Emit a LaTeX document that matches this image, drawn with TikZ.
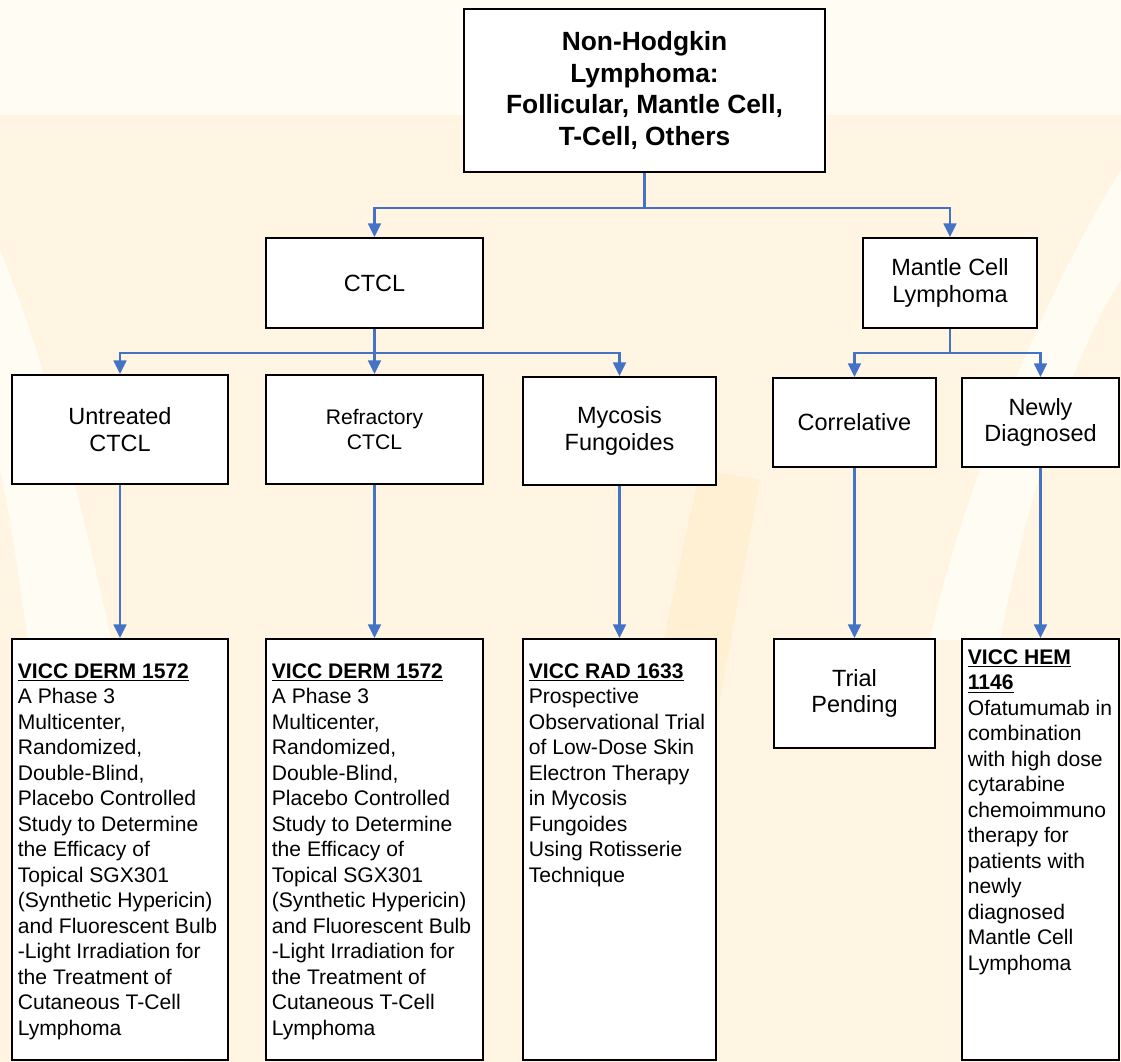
\documentclass[tikz,border=0pt]{standalone}
\usepackage{fontspec}
\setmainfont{Liberation Sans}
\usepackage{tikz}
\usetikzlibrary{arrows.meta}
\definecolor{linkblue}{RGB}{68,114,196}
\definecolor{paper}{RGB}{255,252,244}
\definecolor{wmark}{RGB}{255,245,226}
\definecolor{wmarkdk}{RGB}{255,240,212}
\newcommand{\trialhead}[1]{\underline{\textbf{#1}}}

\begin{document}
\begin{tikzpicture}[x=0.025cm,y=-0.025cm,
		box/.style={draw=black,line width=1.3pt,fill=white,rectangle,inner sep=0pt,align=center},
		wh/.style 2 args={minimum width=#1*0.025cm,minimum height=#2*0.025cm},
		midfont/.style={font=\fontsize{16.7}{19.1}\selectfont},
		arr/.style={draw=linkblue,line width=1.5pt,-{Triangle[length=0.34cm,width=0.32cm]}},
		trialtext/.style={inner sep=0pt,align=left,anchor=north west,font=\fontsize{15}{18.14}\selectfont}]
	\useasboundingbox (0,0) rectangle (1121,1062);
	\fill[paper] (0,0) rectangle (1121,1062);
	\fill[wmark] (0,115) rectangle (1121,1062);
	\fill[paper] (0,250) .. controls (70,420) and (130,700) .. (190,1062) -- (80,1062) .. controls (50,800) and (20,560) .. (0,470) -- cycle;
	\fill[paper] (1121,170) .. controls (1040,300) and (960,500) .. (930,640) -- (1000,640) .. controls (1030,480) and (1080,340) .. (1121,280) -- cycle;
	\fill[wmarkdk] (700,470) .. controls (660,650) and (620,850) .. (590,1062) -- (660,1062) .. controls (690,850) and (730,650) .. (760,480) -- cycle;
	\node[box,wh={361}{163},font=\bfseries\fontsize{18.75}{22.7}\selectfont] (root) at (644.5,90.5) {Non-Hodgkin\\Lymphoma:\\Follicular, Mantle Cell,\\T-Cell, Others};
	\node[box,wh={217}{90},midfont] (ctcl) at (374.5,283) {CTCL};
	\node[box,wh={174}{90},midfont] (mcl) at (950,283) {Mantle Cell\\Lymphoma};
	\node[box,wh={216}{109},midfont] (untr) at (120,429.5) {Untreated\\CTCL};
	\node[box,wh={217}{109},font=\fontsize{15}{17.7}\selectfont] (refr) at (374.5,429.5) {Refractory\\CTCL};
	\node[box,wh={193}{108},midfont] (myco) at (619.5,431) {Mycosis\\Fungoides};
	\node[box,wh={163}{89},midfont] (corr) at (854.5,422.5) {Correlative};
	\node[box,wh={157}{89},midfont] (newd) at (1040.5,422.5) {Newly\\Diagnosed};
	\node[box,wh={216}{421}] (derm1) at (120,849.5) {};
	\node[box,wh={217}{421}] (derm2) at (374.5,849.5) {};
	\node[box,wh={193}{421}] (rad) at (619.5,849.5) {};
	\node[box,wh={161}{109},midfont] (pend) at (854.5,693.5) {Trial\\Pending};
	\node[box,wh={157}{421}] (hem) at (1040.5,849.5) {};
	\foreach \b in {derm1,derm2}
		\node[trialtext] (\b txt) at ([shift={(6.5,23)}]\b.north west) {\rule{0pt}{12pt}\trialhead{VICC DERM 1572}\\A Phase 3\\Multicenter,\\Randomized,\\Double-Blind,\\Placebo Controlled\\Study to Determine\\the Efficacy of\\Topical SGX301\\(Synthetic Hypericin)\\and Fluorescent Bulb\\-Light Irradiation for\\the Treatment of\\Cutaneous T-Cell\\Lymphoma};
	\node[trialtext] (radtxt) at ([shift={(6.5,23)}]rad.north west) {\rule{0pt}{12pt}\trialhead{VICC RAD 1633}\\Prospective\\Observational Trial\\of Low-Dose Skin\\Electron Therapy\\in Mycosis\\Fungoides\\Using Rotisserie\\Technique};
	\node[trialtext] (hemtxt) at ([shift={(6.5,9)}]hem.north west) {\rule{0pt}{12pt}\trialhead{VICC HEM}\\\trialhead{1146}\\Ofatumumab in\\combination\\with high dose\\cytarabine\\chemoimmuno\\therapy for\\patients with\\newly\\diagnosed\\Mantle Cell\\Lymphoma};
	\draw[arr] (root.south) -- ++(0,35) -| (ctcl.north);
	\draw[arr] (root.south) -- ++(0,35) -| (mcl.north);
	\foreach \b in {untr,refr,myco}
		\draw[arr] (ctcl.south) -- ++(0,24) -| (\b.north);
	\foreach \b in {corr,newd}
		\draw[arr] (mcl.south) -- ++(0,24) -| (\b.north);
	\foreach \a/\b in {untr/derm1,refr/derm2,myco/rad,corr/pend,newd/hem}
		\draw[arr] (\a.south) -- (\b.north);
\end{tikzpicture}
\end{document}
